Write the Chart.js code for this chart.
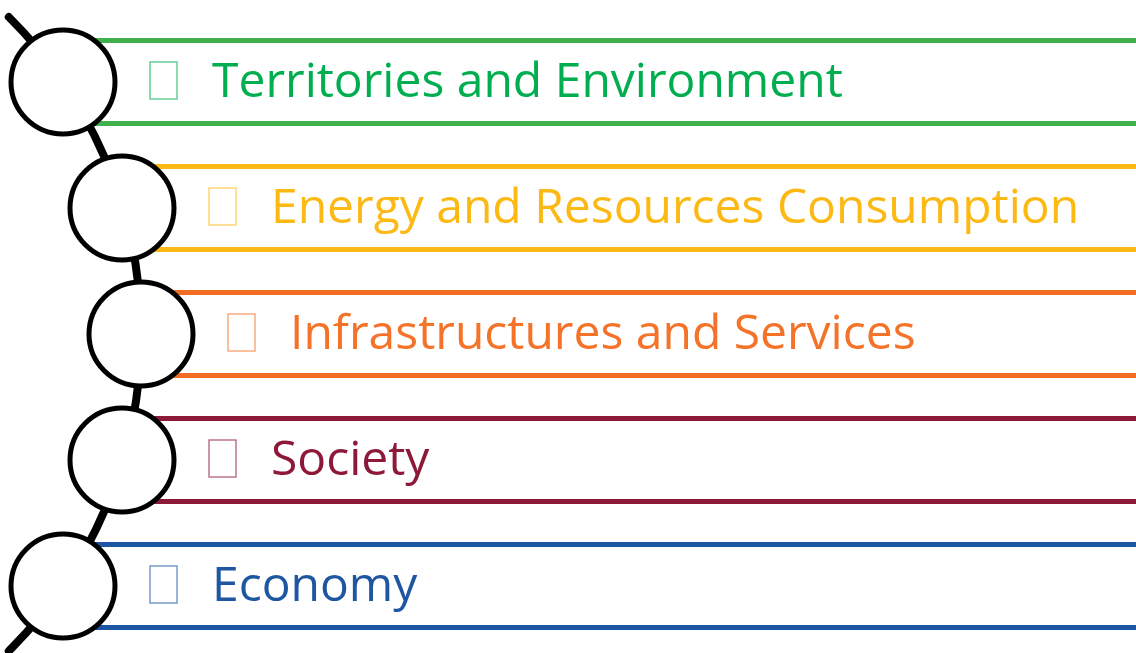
<!DOCTYPE html>
<html lang="en">
<head>
  <meta charset="UTF-8" />
  <title>Topics</title>
  <script src="https://cdn.jsdelivr.net/npm/chart.js"></script>
  <style>
    html, body { margin: 0; padding: 0; background: #fff; }
    #wrap { width: 1136px; height: 653px; }
  </style>
</head>
<body>
  <div id="wrap"><canvas id="topics"></canvas></div>

  <script>
    // data
    const topics = [
      'Territories and Environment',
      'Energy and Resources Consumption',
      'Infrastructures and Services',
      'Society',
      'Economy'
    ];
    const bandEnd = [1136, 1136, 1136, 1136, 1136];

    // layout / styles
    const nodeX = [63, 122, 141, 122, 63];   // circle centres, following the arc
    const lineColors = ['#3fb04a', '#fdb913', '#f26c23', '#8d1838', '#1d56a2'];
    const textColors = ['#00ae4f', '#fdb913', '#f47329', '#8d1838', '#1e56a2'];

    const arcAndLabels = {
      id: 'arcAndLabels',
      beforeDatasetsDraw(chart) {
        const { ctx, scales: { x, y } } = chart;
        // circle through first, middle and last node
        const p = [0, 2, 4].map(i => [x.getPixelForValue(nodeX[i]), y.getPixelForValue(i)]);
        const [ax, ay] = p[0], [bx, by] = p[1], [cx2, cy2] = p[2];
        const d = 2 * (ax * (by - cy2) + bx * (cy2 - ay) + cx2 * (ay - by));
        const ux = ((ax*ax + ay*ay) * (by - cy2) + (bx*bx + by*by) * (cy2 - ay) + (cx2*cx2 + cy2*cy2) * (ay - by)) / d;
        const uy = ((ax*ax + ay*ay) * (cx2 - bx) + (bx*bx + by*by) * (ax - cx2) + (cx2*cx2 + cy2*cy2) * (bx - ax)) / d;
        const r = Math.hypot(ax - ux, ay - uy);
        const a0 = Math.atan2(ay - uy, ax - ux) - 0.19;
        const a1 = Math.atan2(cy2 - uy, cx2 - ux) + 0.19;
        ctx.save();
        ctx.strokeStyle = '#000';
        ctx.lineWidth = 8;
        ctx.lineCap = 'round';
        ctx.beginPath();
        ctx.arc(ux, uy, r, a0, a1);
        ctx.stroke();
        ctx.restore();
      },
      afterDatasetsDraw(chart) {
        const { ctx, scales: { x, y } } = chart;
        ctx.save();
        topics.forEach((t, i) => {
          const px = x.getPixelForValue(nodeX[i]);
          const py = y.getPixelForValue(i);
          // empty bullet box
          ctx.strokeStyle = textColors[i];
          ctx.globalAlpha = 0.6;
          ctx.lineWidth = 1.5;
          ctx.strokeRect(px + 87, py - 20, 27, 37);
          ctx.globalAlpha = 1;
          ctx.fillStyle = textColors[i];
          ctx.font = '48px "Open Sans"';
          ctx.textBaseline = 'alphabetic';
          ctx.textAlign = 'left';
          ctx.fillText(t, px + 149, py + 15);
        });
        ctx.restore();
      }
    };

    new Chart(document.getElementById('topics'), {
      type: 'bar',
      data: {
        labels: topics,
        datasets: [
          {
            type: 'line',
            indexAxis: 'y',
            data: topics.map((t, i) => ({ x: nodeX[i], y: t })),
            showLine: false,
            pointRadius: 52,
            pointHoverRadius: 52,
            pointBackgroundColor: '#fff',
            pointBorderColor: '#000',
            pointBorderWidth: 5,
            pointHoverBorderWidth: 5,
            clip: false,
            order: 0
          },
          {
            data: bandEnd.map((e, i) => [nodeX[i], e]),
            backgroundColor: '#fff',
            borderColor: lineColors,
            borderWidth: { top: 5, bottom: 5, left: 0, right: 0 },
            borderSkipped: false,
            barPercentage: 1,
            categoryPercentage: 0.7,
            order: 1
          }
        ]
      },
      options: {
        indexAxis: 'y',
        responsive: true,
        maintainAspectRatio: false,
        animation: false,
        layout: { autoPadding: false, padding: { top: 19, bottom: 4, left: 0, right: 0 } },
        plugins: { legend: { display: false }, tooltip: { enabled: false } },
        events: [],
        scales: {
          x: { type: 'linear', min: 0, max: 1136, display: false },
          y: { type: 'category', offset: true, display: false, grid: { display: false } }
        }
      },
      plugins: [arcAndLabels]
    });
  </script>
</body>
</html>
